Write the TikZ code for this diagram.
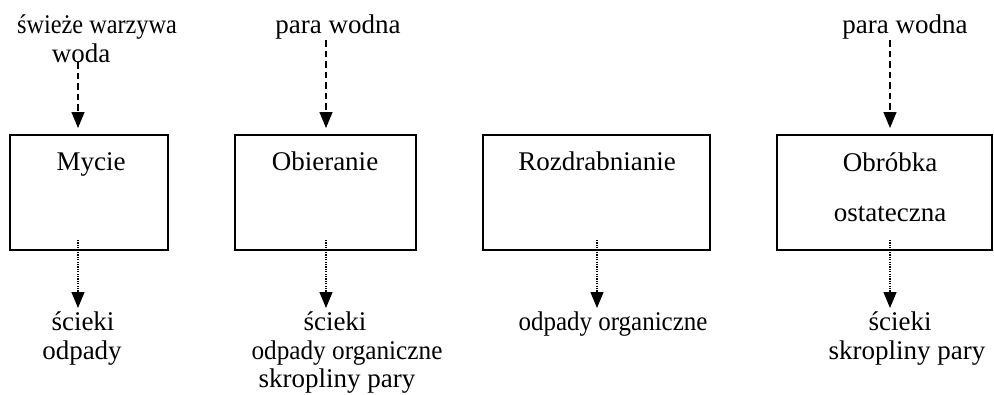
\documentclass[tikz,border=0pt]{standalone}
\usepackage{fontspec}
\setmainfont{Liberation Serif}
\usetikzlibrary{arrows.meta}
\begin{document}
\begin{tikzpicture}[x=1pt,y=-1pt,
  font=\fontsize{27}{29}\selectfont,
  box/.style={draw, line width=2pt, rectangle, inner sep=0pt},
  txt/.style={anchor=base, inner sep=0pt},
  inarrow/.style={line width=1.4pt, dash pattern=on 6.5pt off 4pt, -{Triangle[length=16pt,width=13pt]}},
  outarrow/.style={line width=1.3pt, dash pattern=on 1.2pt off 1.2pt, -{Triangle[length=16pt,width=13pt]}}]
\useasboundingbox (0,0) rectangle (994,394);
% boxes
\node[box, minimum width=158pt, minimum height=115pt] (b1) at (89,192.5) {};
\node[box, minimum width=181pt, minimum height=115pt] (b2) at (325.5,192.5) {};
\node[box, minimum width=227pt, minimum height=115pt] (b3) at (596.5,192.5) {};
\node[box, minimum width=215pt, minimum height=115pt] (b4) at (884.5,192.5) {};
% box texts
\node[txt] (m1) at (91,170) {Mycie};
\node[txt] (m2) at (325,170) {Obieranie};
\node[txt] (m3) at (597,170) {Rozdrabnianie};
\node[txt] (m4a) at (890,171) {Obróbka};
\node[txt] (m4b) at (890,221) {ostateczna};
% inputs
\node[txt] (i1a) at (97,33) {\scalebox{0.9}[1]{świeże warzywa}};
\node[txt] (i1b) at (81,62) {woda};
\node[txt] (i2) at (338,33) {para wodna};
\node[txt] (i4) at (905,33) {para wodna};
% outputs
\node[txt] (o1a) at (83,330) {ścieki};
\node[txt] (o1b) at (82,359) {odpady};
\node[txt] (o2a) at (335,330) {ścieki};
\node[txt] (o2b) at (347,359) {\scalebox{0.935}[1]{odpady organiczne}};
\node[txt] (o2c) at (337,387) {skropliny pary};
\node[txt] (o3a) at (613,330) {\scalebox{0.925}[1]{odpady organiczne}};
\node[txt] (o4a) at (900,330) {ścieki};
\node[txt] (o4b) at (907,359) {skropliny pary};
% arrow coordinates
\coordinate (s1) at (78,62);  \coordinate (e1) at (78,128);
\coordinate (s2) at (326,40); \coordinate (e2) at (326,128);
\coordinate (s4) at (890,40); \coordinate (e4) at (890,128);
\coordinate (d1) at (78,240);  \coordinate (f1) at (78,308);
\coordinate (d2) at (326,240); \coordinate (f2) at (326,308);
\coordinate (d3) at (597,240); \coordinate (f3) at (597,308);
\coordinate (d4) at (890,240); \coordinate (f4) at (890,308);
% arrows
\draw[inarrow] (s1) -- (e1);
\draw[inarrow] (s2) -- (e2);
\draw[inarrow] (s4) -- (e4);
\draw[outarrow] (d1) -- (f1);
\draw[outarrow] (d2) -- (f2);
\draw[outarrow] (d3) -- (f3);
\draw[outarrow] (d4) -- (f4);
\end{tikzpicture}
\end{document}
